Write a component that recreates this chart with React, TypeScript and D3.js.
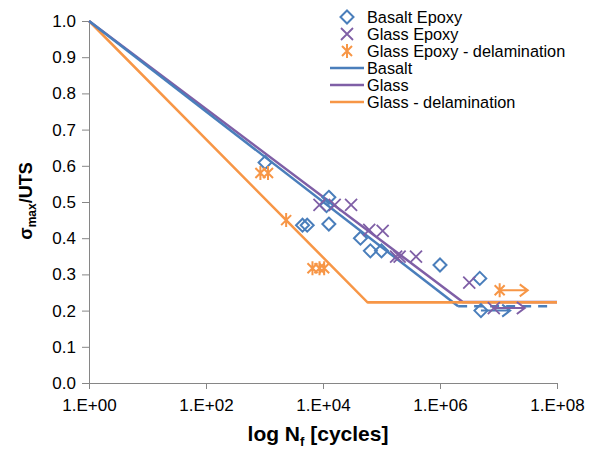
import * as d3 from "d3";
import React from "react";

// values: log10(N) and sigma_max/UTS
const basaltLogN = [3.01, 3.65, 3.73, 4.06, 4.1, 4.1, 4.64, 4.81, 5.0, 6.0, 6.68];
const basaltS = [0.609, 0.436, 0.436, 0.49, 0.513, 0.439, 0.4, 0.365, 0.365, 0.326, 0.289];
const glassLogN = [3.94, 4.2, 4.48, 4.79, 5.02, 5.25, 5.31, 5.59, 6.5];
const glassS = [0.492, 0.492, 0.492, 0.423, 0.42, 0.349, 0.349, 0.349, 0.277];
const delamLogN = [2.93, 3.06, 3.37, 3.82, 3.94, 4.02];
const delamS = [0.58, 0.58, 0.45, 0.317, 0.317, 0.317];

// run-outs: [start logN, end logN, level]
const basaltRunout = [[6.7, 7.2, 0.2]];
const glassRunout = [[6.92, 7.45, 0.207]];
const delamRunout = [[7.02, 7.5, 0.256]];

// fitted lines: [logN, S]
const basaltFit = [[0, 1.0], [6.31, 0.212]];
const basaltLimit = [[6.31, 0.212], [7.85, 0.212]];
const glassFit = [[0, 1.0], [6.39, 0.224], [8, 0.224]];
const delamFit = [[0, 1.0], [4.76, 0.223], [8, 0.223]];

const xTicks = [0, 2, 4, 6, 8];
const yTicks = d3.range(0, 11).map((d) => d / 10);

const BLUE = "#4a7ebb";
const PURPLE = "#7f5fa6";
const ORANGE = "#f79646";

function drawMarker(g, type, color) {
  if (type === "diamond") {
    g.append("path").attr("d", "M0,-6.5L6.5,0L0,6.5L-6.5,0Z").attr("fill", "none").attr("stroke", color).attr("stroke-width", 2);
  } else if (type === "x") {
    g.append("path").attr("d", "M-6,-6L6,6M-6,6L6,-6").attr("stroke", color).attr("stroke-width", 1.8);
  } else {
    g.append("path").attr("d", "M-5,-5L5,5M-5,5L5,-5M0,-7L0,7").attr("stroke", color).attr("stroke-width", 2);
  }
}

const App = () => {
  const ref = React.useRef(null);
  React.useEffect(() => {
    const svg = d3.select(ref.current);
    svg.selectAll("*").remove();
    const font = "'Liberation Sans', Arial, sans-serif";

    const x = d3.scaleLinear().domain([0, 8]).range([89, 557]);
    const y = d3.scaleLinear().domain([0, 1]).range([383, 21]);

    // axes
    const yAxis = svg.append("g").attr("transform", "translate(89,0)").call(d3.axisLeft(y).tickValues(yTicks).tickFormat(d3.format(".1f")).tickSize(7).tickSizeOuter(0));
    const xAxis = svg.append("g").attr("transform", "translate(0,383)").call(d3.axisBottom(x).tickValues(xTicks).tickFormat((d) => "1.E+" + String(d).padStart(2, "0")).tickSize(6).tickSizeOuter(0));
    [yAxis, xAxis].forEach((a) => {
      a.select(".domain").attr("stroke", "#868686");
      a.selectAll(".tick line").attr("stroke", "#868686");
      a.selectAll("text").attr("fill", "#000").style("font-family", font).style("font-size", "17px");
    });
    yAxis.selectAll("text").attr("x", -13);
    xAxis.selectAll("text").attr("y", 16);

    const line = d3.line().x((d) => x(d[0])).y((d) => y(d[1]));
    svg.append("path").attr("d", line(delamFit)).attr("fill", "none").attr("stroke", ORANGE).attr("stroke-width", 2.5);
    svg.append("path").attr("d", line(glassFit)).attr("fill", "none").attr("stroke", PURPLE).attr("stroke-width", 2.5);
    svg.append("path").attr("d", line(basaltFit)).attr("fill", "none").attr("stroke", BLUE).attr("stroke-width", 2.5);
    svg.append("path").attr("d", line(basaltLimit)).attr("fill", "none").attr("stroke", BLUE).attr("stroke-width", 2.5).attr("stroke-dasharray", "9,7");
    // orange horizontal drawn on top of purple
    svg.append("path").attr("d", line(delamFit.slice(1))).attr("fill", "none").attr("stroke", ORANGE).attr("stroke-width", 2.5);

    const series = [
      { n: basaltLogN, s: basaltS, type: "diamond", color: BLUE, run: basaltRunout },
      { n: glassLogN, s: glassS, type: "x", color: PURPLE, run: glassRunout },
      { n: delamLogN, s: delamS, type: "star", color: ORANGE, run: delamRunout },
    ];
    series.forEach((ser) => {
      ser.n.forEach((v, i) => {
        const g = svg.append("g").attr("transform", `translate(${x(v)},${y(ser.s[i])})`);
        drawMarker(g, ser.type, ser.color);
      });
      ser.run.forEach((r) => {
        const x0 = x(r[0]), x1 = x(r[1]), yy = y(r[2]);
        svg.append("path").attr("d", `M${x0},${yy}L${x1},${yy}M${x1 - 8},${yy - 6}L${x1},${yy}L${x1 - 8},${yy + 6}`)
          .attr("fill", "none").attr("stroke", ser.color).attr("stroke-width", 2);
        const g = svg.append("g").attr("transform", `translate(${x0},${yy})`);
        drawMarker(g, ser.type, ser.color);
      });
    });

    // legend
    const legend = [
      { label: "Basalt Epoxy", type: "diamond", color: BLUE },
      { label: "Glass Epoxy", type: "x", color: PURPLE },
      { label: "Glass Epoxy - delamination", type: "star", color: ORANGE },
      { label: "Basalt", type: "line", color: BLUE },
      { label: "Glass", type: "line", color: PURPLE },
      { label: "Glass - delamination", type: "line", color: ORANGE },
    ];
    legend.forEach((d, i) => {
      const yy = 17 + i * 17;
      if (d.type === "line") {
        svg.append("line").attr("x1", 330).attr("x2", 364).attr("y1", yy).attr("y2", yy).attr("stroke", d.color).attr("stroke-width", 2.5);
      } else {
        const g = svg.append("g").attr("transform", `translate(347,${yy})`);
        drawMarker(g, d.type, d.color);
      }
      svg.append("text").attr("x", 367).attr("y", yy + 5.5).text(d.label).style("font-family", font).style("font-size", "16.3px");
    });

    // axis titles
    const xt = svg.append("text").attr("x", 318).attr("y", 441).attr("text-anchor", "middle").style("font-family", font).style("font-size", "21px").style("font-weight", "bold");
    xt.append("tspan").text("log N");
    xt.append("tspan").attr("dy", 5).style("font-size", "13px").text("f");
    xt.append("tspan").attr("dy", -5).text(" [cycles]");

    const yt = svg.append("text").attr("transform", "translate(32,201) rotate(-90)").attr("text-anchor", "middle").style("font-family", font).style("font-size", "18px").style("font-weight", "bold");
    yt.append("tspan").text("σ");
    yt.append("tspan").attr("dy", 4).style("font-size", "12px").text("max");
    yt.append("tspan").attr("dy", -4).text("/UTS");
  }, []);

  return <svg ref={ref} width={593} height={450} style={{ position: "absolute", left: 0, top: 0, background: "#fff" }}></svg>;
};

export default App;
